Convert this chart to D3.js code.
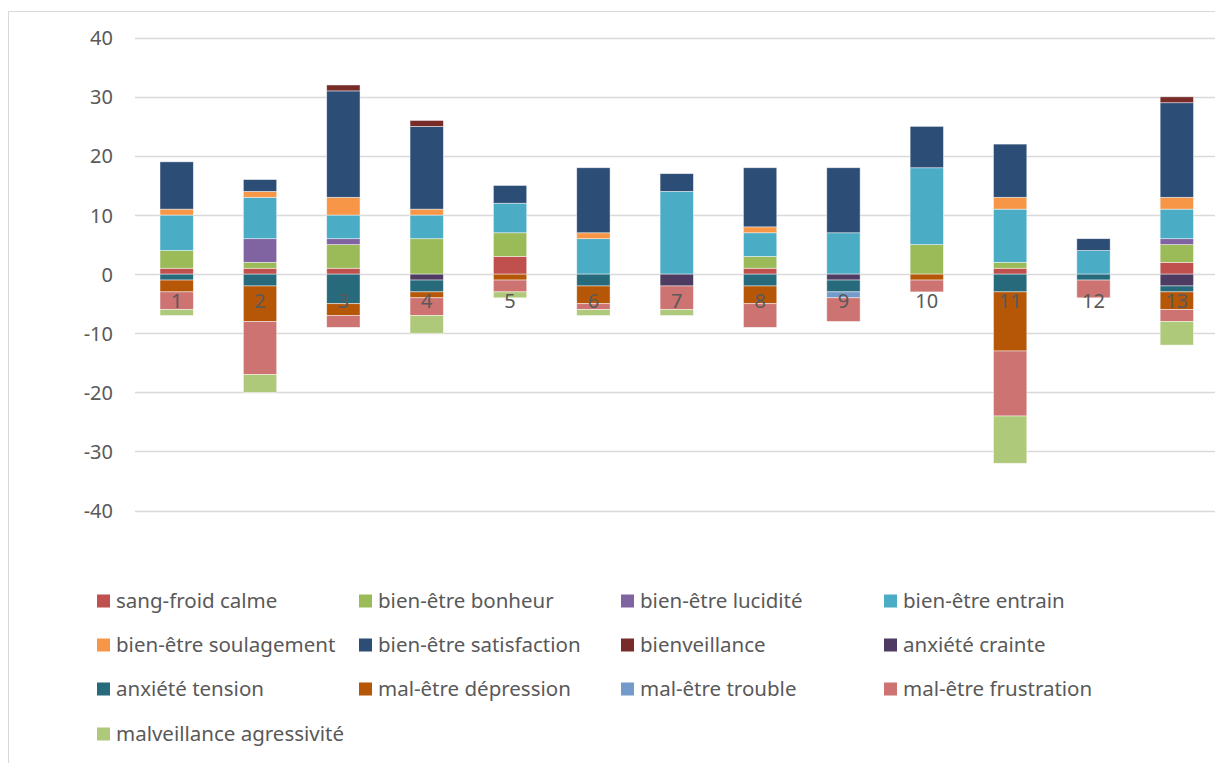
<!DOCTYPE html>
<html>
<head>
<meta charset="utf-8">
<script src="https://cdn.jsdelivr.net/npm/d3@7"></script>
<style>
  html, body { margin: 0; padding: 0; background: #fff; }
  svg { display: block; }
  text { font-family: "Noto Sans", "Open Sans", sans-serif; fill: #595959; }
</style>
</head>
<body>
<svg id="chart" width="1215" height="763"></svg>
<script>
const categories = ["1","2","3","4","5","6","7","8","9","10","11","12","13"];
const seriesNames = [
  "sang-froid calme","bien-être bonheur","bien-être lucidité","bien-être entrain",
  "bien-être soulagement","bien-être satisfaction","bienveillance","anxiété crainte",
  "anxiété tension","mal-être dépression","mal-être trouble","mal-être frustration",
  "malveillance agressivité"
];
const seriesColors = [
  "#C0504D","#9BBB59","#8064A2","#4BACC6","#F79646","#2C4D75","#772C2A",
  "#4D3B62","#276A7C","#B65708","#729ACA","#CD7371","#AFC97A"
];
// values per series, one per category (1..13)
const sangFroidCalme        = [1, 1, 1, 0, 3, 0, 0, 1, 0, 0, 1, 0, 2];
const bienEtreBonheur       = [3, 1, 4, 6, 4, 0, 0, 2, 0, 5, 1, 0, 3];
const bienEtreLucidite      = [0, 4, 1, 0, 0, 0, 0, 0, 0, 0, 0, 0, 1];
const bienEtreEntrain       = [6, 7, 4, 4, 5, 6, 14, 4, 7, 13, 9, 4, 5];
const bienEtreSoulagement   = [1, 1, 3, 1, 0, 1, 0, 1, 0, 0, 2, 0, 2];
const bienEtreSatisfaction  = [8, 2, 18, 14, 3, 11, 3, 10, 11, 7, 9, 2, 16];
const bienveillance         = [0, 0, 1, 1, 0, 0, 0, 0, 0, 0, 0, 0, 1];
const anxieteCrainte        = [0, 0, 0, -1, 0, 0, -2, 0, -1, 0, 0, 0, -2];
const anxieteTension        = [-1, -2, -5, -2, 0, -2, 0, -2, -2, 0, -3, -1, -1];
const malEtreDepression     = [-2, -6, -2, -1, -1, -3, 0, -3, 0, -1, -10, 0, -3];
const malEtreTrouble        = [0, 0, 0, 0, 0, 0, 0, 0, -1, 0, 0, 0, 0];
const malEtreFrustration    = [-3, -9, -2, -3, -2, -1, -4, -4, -4, -2, -11, -3, -2];
const malveillanceAgressivite = [-1, -3, 0, -3, -1, -1, -1, 0, 0, 0, -8, 0, -4];
const yTicks = [40, 30, 20, 10, 0, -10, -20, -30, -40];

const seriesValues = [
  sangFroidCalme, bienEtreBonheur, bienEtreLucidite, bienEtreEntrain,
  bienEtreSoulagement, bienEtreSatisfaction, bienveillance, anxieteCrainte,
  anxieteTension, malEtreDepression, malEtreTrouble, malEtreFrustration,
  malveillanceAgressivite
];

const svg = d3.select("#chart");

// outer chart border (cropped at right/bottom)
svg.append("rect").attr("x", 8.5).attr("y", 11.5).attr("width", 1240).attr("height", 800)
  .attr("fill", "#fff").attr("stroke", "#D9D9D9").attr("stroke-width", 1);

const x = d3.scaleBand().domain(categories).range([135, 1218.5]).paddingInner(0.6).paddingOuter(0.3);
const y = d3.scaleLinear().domain([-40, 40]).range([510.6, 37.7]);

// gridlines
svg.append("g").selectAll("line").data(yTicks).join("line")
  .attr("x1", 135).attr("x2", 1218)
  .attr("y1", d => Math.round(y(d)) + 0.5).attr("y2", d => Math.round(y(d)) + 0.5)
  .attr("stroke", "#D9D9D9").attr("stroke-width", 1.5);

// y axis labels
const yAxis = d3.axisLeft(y).tickValues(yTicks).tickSize(0).tickPadding(0).tickFormat(d => String(d));
const ya = svg.append("g").attr("transform", "translate(113,0)").call(yAxis);
ya.select(".domain").remove();
ya.selectAll("text").attr("font-size", 20).attr("font-family", "Noto Sans").attr("fill", "#595959")
  .attr("dy", "0.35em");

// stacking with positive/negative separation
const table = categories.map((c, i) => {
  const row = { cat: c };
  seriesNames.forEach((s, j) => row[s] = seriesValues[j][i]);
  return row;
});
const stack = d3.stack().keys(seriesNames).offset(d3.stackOffsetDiverging);
const stacked = stack(table);

const bw = x.bandwidth();
const barsG = svg.append("g");
stacked.forEach((layer, j) => {
  barsG.append("g").attr("fill", seriesColors[j]).selectAll("rect")
    .data(layer.filter(d => d[1] - d[0] !== 0))
    .join("rect")
    .attr("x", d => x(d.data.cat))
    .attr("width", bw)
    .attr("y", d => y(Math.max(d[0], d[1])))
    .attr("height", d => Math.abs(y(d[0]) - y(d[1])))
    .attr("stroke", "#ffffff").attr("stroke-opacity", 0.6).attr("stroke-width", 0.75);
});

// category labels near zero
const xAxis = d3.axisBottom(x).tickSize(0).tickPadding(0);
const xa = svg.append("g").attr("transform", `translate(0,${y(0)})`).call(xAxis);
xa.select(".domain").remove();
xa.selectAll("text").attr("font-size", 20).attr("font-family", "Noto Sans").attr("fill", "#595959")
  .attr("y", 34).attr("dy", 0);

// legend
const colX = [97, 359, 621, 884];
const rowY = [601, 645, 689, 734];
const lg = svg.append("g").selectAll("g").data(seriesNames).join("g")
  .attr("transform", (d, i) => `translate(${colX[i % 4]},${rowY[Math.floor(i / 4)]})`);
lg.append("rect").attr("x", 0).attr("y", -6.5).attr("width", 13).attr("height", 13)
  .attr("fill", (d, i) => seriesColors[i]);
lg.append("text").attr("x", 19).attr("y", 0).attr("dy", "0.35em")
  .attr("font-size", 20.5).text(d => d);
</script>
</body>
</html>
